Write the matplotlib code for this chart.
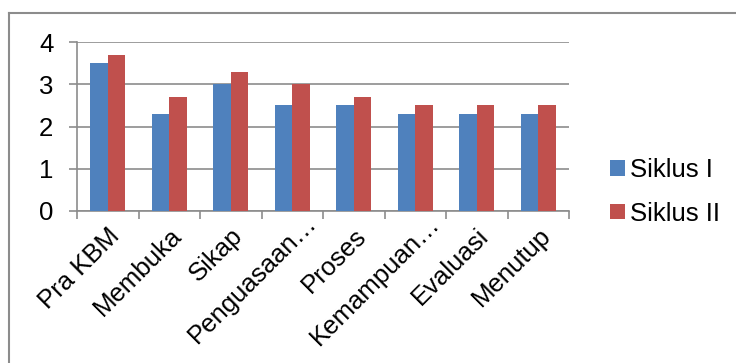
import matplotlib.pyplot as plt
import matplotlib.lines as mlines
import matplotlib.transforms as mtransforms
import numpy as np

categories = ["Pra KBM", "Membuka", "Sikap", "Penguasaan…", "Proses",
              "Kemampuan…", "Evaluasi", "Menutup"]
siklus_1 = [3.5, 2.3, 3.0, 2.5, 2.5, 2.3, 2.3, 2.3]
siklus_2 = [3.7, 2.7, 3.3, 3.0, 2.7, 2.5, 2.5, 2.5]
y_ticks = [0, 1, 2, 3, 4]

plt.rcParams['font.family'] = ['Liberation Sans', 'DejaVu Sans']
fs = 18.5

fig = plt.figure(figsize=(7.36, 3.63), dpi=100)
ax = fig.add_axes([77 / 736, 1 - 211 / 363, 492 / 736, 169 / 363])

x = np.arange(len(categories))
w = 0.285
ax.bar(x - w / 2, siklus_1, w, color="#4F81BD", label="Siklus I", zorder=3)
ax.bar(x + w / 2, siklus_2, w, color="#C0504D", label="Siklus II", zorder=3)

ax.set_xlim(-0.5, len(categories) - 0.5)
ax.set_ylim(0, 4)
ax.set_yticks(y_ticks)
ax.yaxis.grid(True, color="#8c8c8c", linewidth=1.2, zorder=0)
ax.set_axisbelow(True)

# category boundary ticks on x
ax.set_xticks(np.arange(len(categories) + 1) - 0.5)
ax.set_xticklabels([])
ax.tick_params(axis="x", length=6, color="#8c8c8c", width=1.2)
ax.tick_params(axis="y", length=6, color="#8c8c8c", width=1.2, pad=11,
               labelsize=fs)

# rotated category labels; truncated ones let the ellipsis hang past the anchor
base = ax.get_xaxis_transform()
for i, cat in enumerate(categories):
    dx, dy = (0.12, 0.0) if cat.endswith("…") else (0.0, -0.125)
    off = mtransforms.ScaledTranslation(dx, dy, fig.dpi_scale_trans)
    ax.text(x[i], 0, cat, transform=base + off, rotation=45, ha="right",
            va="top", rotation_mode="anchor", fontsize=fs)

for side in ["top", "right"]:
    ax.spines[side].set_visible(False)
for side in ["left", "bottom"]:
    ax.spines[side].set_color("#8c8c8c")
    ax.spines[side].set_linewidth(1.2)

fig.legend(loc="center left", bbox_to_anchor=(592 / 736, 1 - 192 / 363),
           frameon=False, fontsize=fs, handlelength=0.57, handleheight=0.57,
           handletextpad=0.2, labelspacing=0.75, borderpad=0.2)

# chart border (top and left edges visible)
fig.add_artist(mlines.Line2D([8.5 / 736, 8.5 / 736], [0, 1 - 13 / 363],
                             transform=fig.transFigure, color="#8c8c8c", lw=1.5))
fig.add_artist(mlines.Line2D([8.5 / 736, 1], [1 - 13 / 363, 1 - 13 / 363],
                             transform=fig.transFigure, color="#8c8c8c", lw=1.5))

fig.savefig("out.png", dpi=100)
